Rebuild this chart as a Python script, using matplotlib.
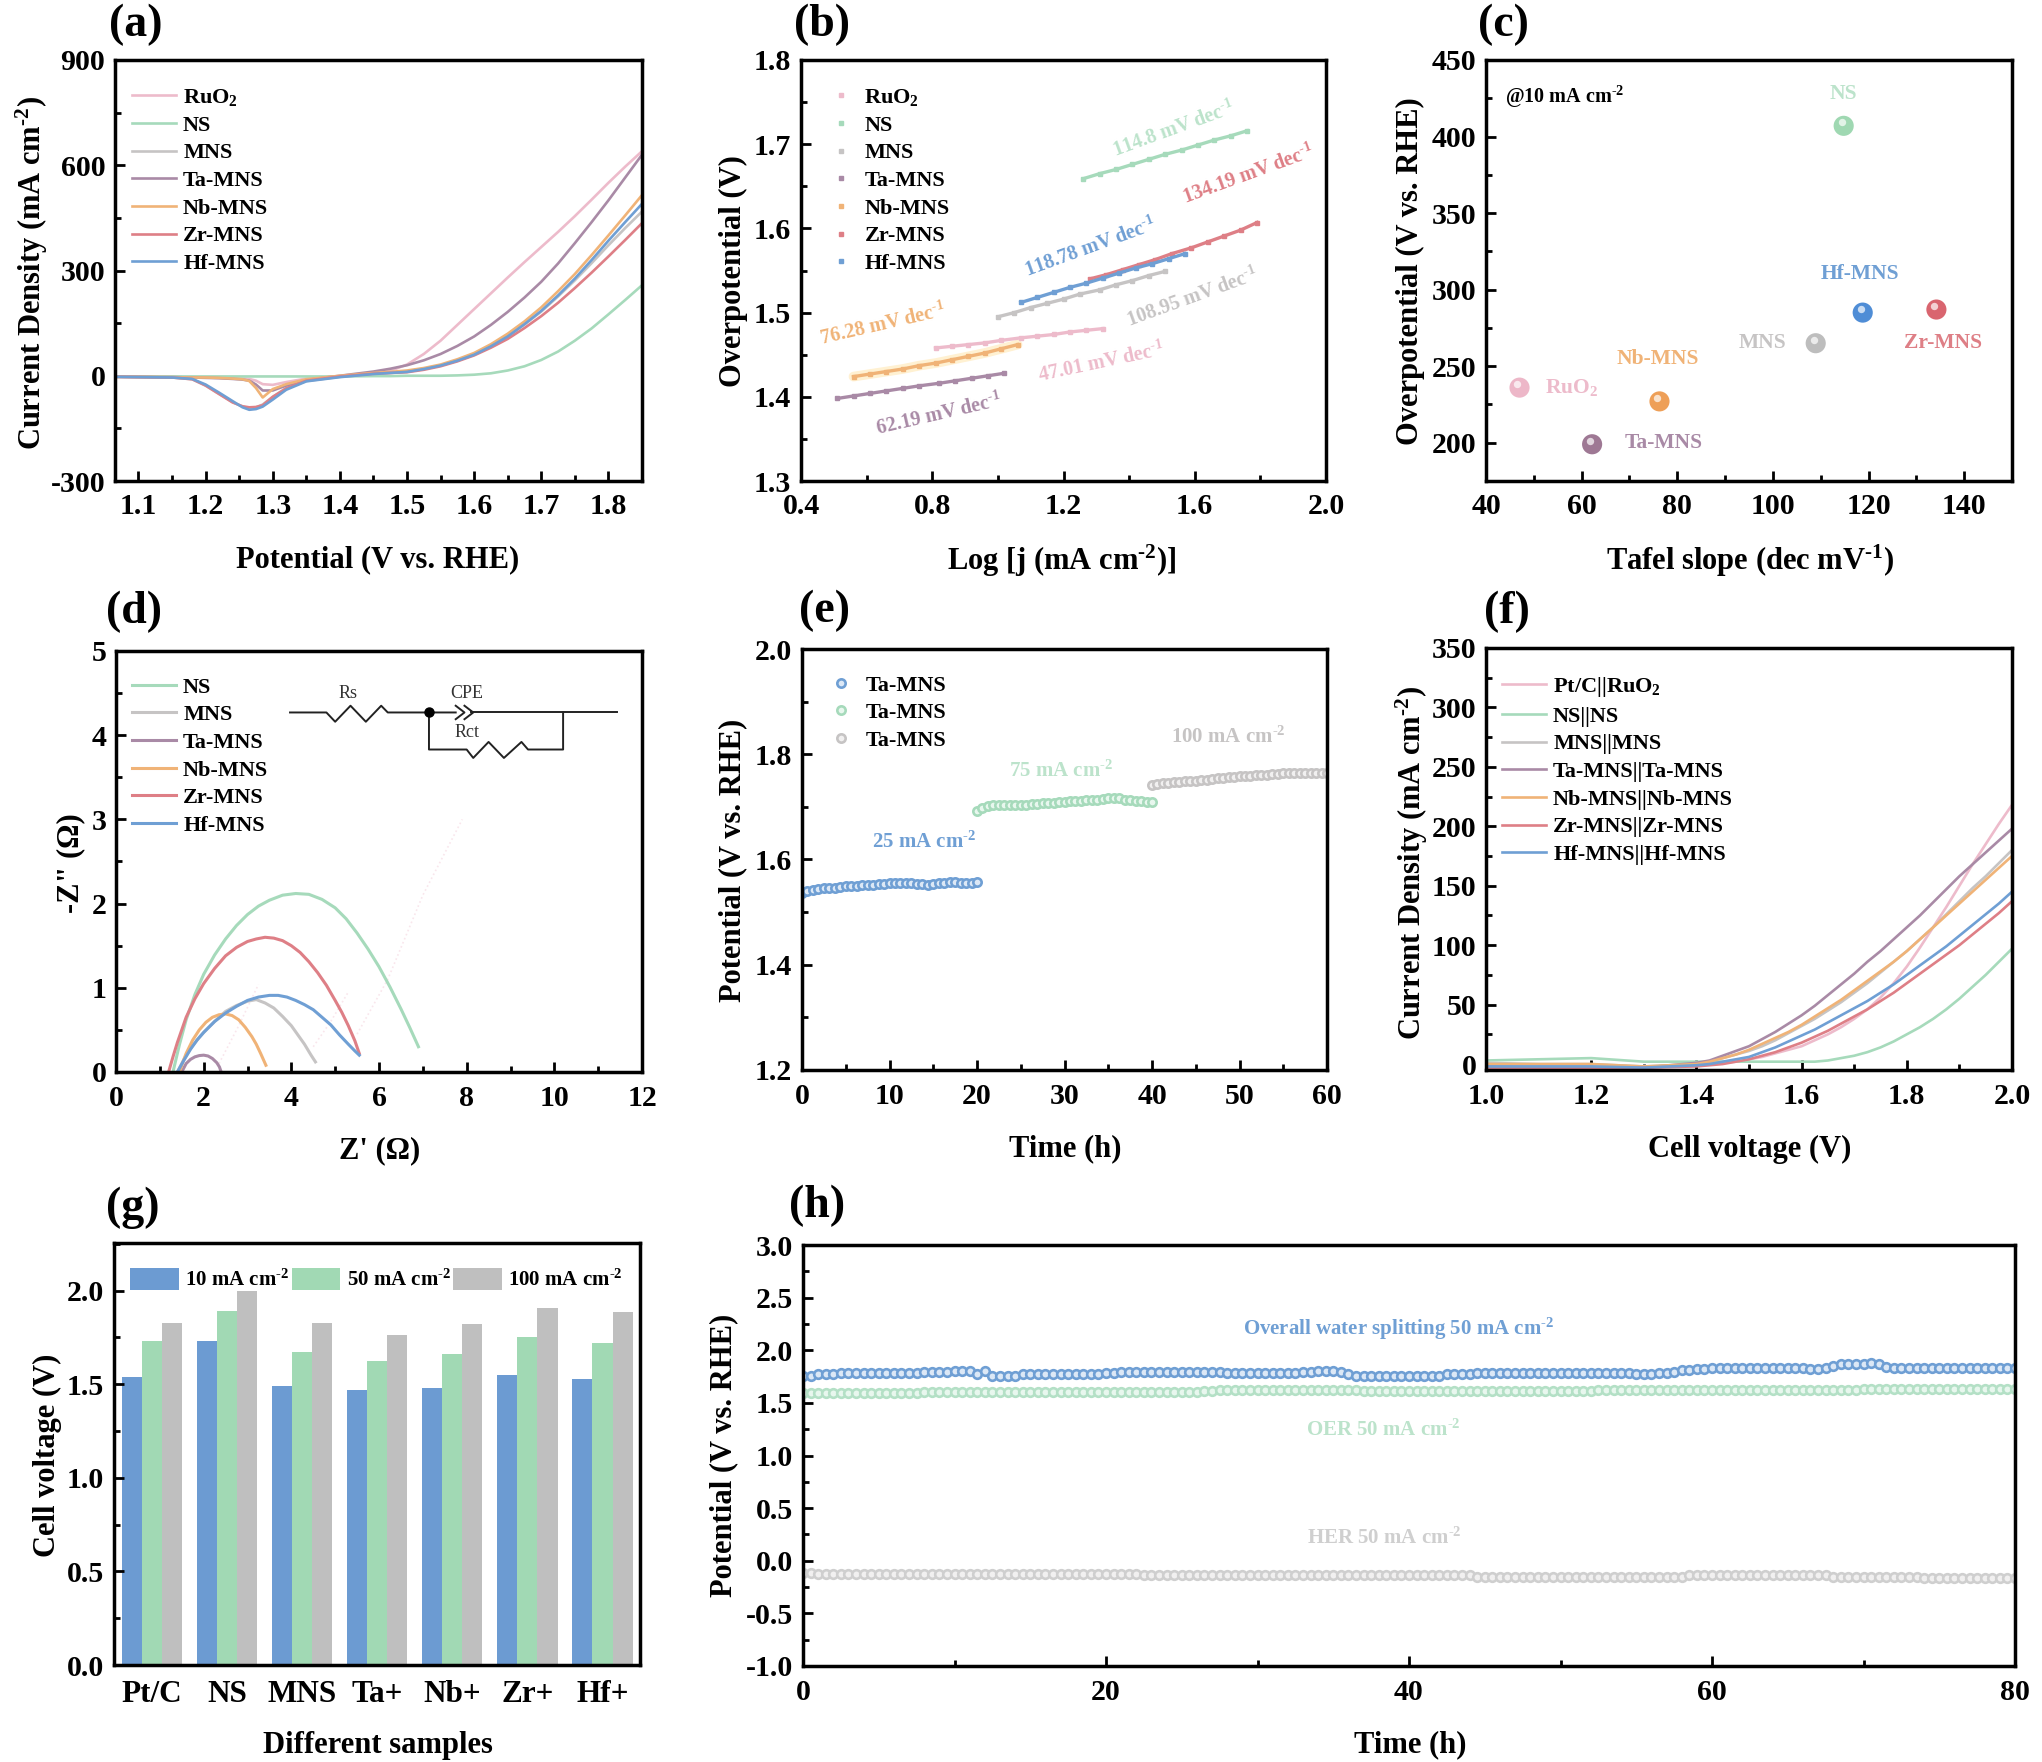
import matplotlib
matplotlib.use("Agg")
import matplotlib.pyplot as plt
import numpy as np
from matplotlib.ticker import MultipleLocator
from matplotlib.transforms import offset_copy

plt.rcParams.update({
    'font.family': 'Liberation Serif', 'font.weight': 'bold', 'axes.labelweight': 'bold',
    'mathtext.fontset': 'custom', 'mathtext.rm': 'Liberation Serif:bold',
    'mathtext.default': 'regular', 'axes.unicode_minus': False,
    'axes.linewidth': 2.5, 'xtick.direction': 'in', 'ytick.direction': 'in',
    'xtick.major.size': 7, 'ytick.major.size': 7, 'xtick.minor.size': 4, 'ytick.minor.size': 4,
    'xtick.major.width': 2, 'ytick.major.width': 2, 'xtick.minor.width': 2, 'ytick.minor.width': 2,
    'xtick.labelsize': 21.5, 'ytick.labelsize': 21.5, 'xtick.major.pad': 9, 'ytick.major.pad': 7,
})

W, H = 2042, 1762
PINK, GREEN, GRAY, PURPLE, ORANGE, RED, BLUE = '#EDBBCB', '#A6DABB', '#C6C4C4', '#A98AA6', '#F0B377', '#DE7F86', '#6F9FD4'
PALEGREEN = '#BCE3CB'

# (a) LSV
a_x = [1.065, 1.15, 1.18, 1.20, 1.22, 1.24, 1.255, 1.265, 1.275, 1.285, 1.30, 1.32, 1.35, 1.40,
       1.45, 1.475, 1.50, 1.525, 1.55, 1.575, 1.60, 1.625, 1.65, 1.675, 1.70, 1.725, 1.75, 1.775, 1.80, 1.825, 1.85]
a_ruo2 = [-3, -4, -5, -5, -6, -7, -8, -9, -14, -24, -26, -18, -8, -2,
          5, 14, 32, 62, 100, 145, 190, 235, 280, 324, 367, 410, 455, 502, 550, 596, 640]
a_ns = [-2, -2, -2, -2, -2, -2, -2, -2, -2, -2, -2, -2, -2, -2,
        -1, -1, 0, 0, 0, 1, 3, 7, 15, 27, 45, 69, 100, 135, 175, 216, 258]
a_mns = [-3, -5, -10, -28, -52, -75, -88, -92, -90, -82, -60, -35, -15, -3,
         5, 8, 12, 20, 30, 43, 60, 84, 113, 146, 183, 226, 272, 321, 372, 421, 468]
a_ta = [-3, -4, -5, -6, -7, -9, -11, -14, -25, -42, -42, -28, -12, 0,
        12, 20, 30, 44, 62, 85, 112, 145, 182, 223, 268, 320, 378, 438, 500, 565, 630]
a_nb = [-3, -4, -5, -5, -6, -8, -10, -15, -35, -62, -38, -24, -10, 0,
        8, 11, 15, 22, 32, 47, 65, 90, 120, 155, 195, 241, 290, 344, 400, 457, 515]
a_zr = [-3, -5, -10, -28, -52, -76, -87, -90, -89, -84, -60, -36, -14, -2,
        6, 8, 10, 17, 27, 41, 58, 80, 105, 136, 170, 208, 250, 294, 340, 387, 435]
a_hf = [-3, -5, -9, -25, -48, -72, -90, -97, -95, -88, -68, -40, -16, -4,
        5, 8, 11, 19, 29, 43, 60, 84, 112, 147, 185, 229, 277, 330, 385, 438, 490]

# (b) Tafel
b_ruo2_x = [0.81, 0.86, 0.91, 0.96, 1.01, 1.07, 1.12, 1.17, 1.22, 1.27, 1.32]
b_ruo2_y = [1.458, 1.460, 1.462, 1.464, 1.467, 1.470, 1.472, 1.474, 1.477, 1.479, 1.481]
b_ns_x = [1.26, 1.31, 1.36, 1.41, 1.46, 1.51, 1.56, 1.61, 1.66, 1.71, 1.76]
b_ns_y = [1.659, 1.665, 1.670, 1.676, 1.682, 1.688, 1.693, 1.699, 1.705, 1.710, 1.716]
b_mns_x = [1.00, 1.05, 1.10, 1.15, 1.20, 1.25, 1.31, 1.36, 1.41, 1.46, 1.51]
b_mns_y = [1.495, 1.500, 1.506, 1.511, 1.516, 1.522, 1.527, 1.533, 1.538, 1.544, 1.549]
b_ta_x = [0.51, 0.56, 0.61, 0.66, 0.71, 0.76, 0.82, 0.87, 0.92, 0.97, 1.02]
b_ta_y = [1.398, 1.401, 1.404, 1.407, 1.410, 1.413, 1.416, 1.419, 1.422, 1.425, 1.428]
b_nb_x = [0.56, 0.61, 0.66, 0.71, 0.76, 0.81, 0.86, 0.91, 0.96, 1.01, 1.06]
b_nb_y = [1.424, 1.427, 1.430, 1.433, 1.437, 1.440, 1.444, 1.448, 1.452, 1.457, 1.462]
b_zr_x = [1.28, 1.33, 1.38, 1.43, 1.48, 1.53, 1.59, 1.64, 1.69, 1.74, 1.79]
b_zr_y = [1.540, 1.545, 1.551, 1.557, 1.563, 1.570, 1.577, 1.584, 1.591, 1.598, 1.607]
b_hf_x = [1.07, 1.12, 1.17, 1.22, 1.27, 1.32, 1.37, 1.42, 1.47, 1.52, 1.57]
b_hf_y = [1.512, 1.518, 1.524, 1.530, 1.535, 1.541, 1.547, 1.553, 1.558, 1.564, 1.570]
b_slopes = ['114.8', '134.19', '118.78', '108.95', '76.28', '47.01', '62.19']

# (c) overpotential vs Tafel slope
c_names = ['RuO$_2$', 'NS', 'MNS', 'Ta-MNS', 'Nb-MNS', 'Zr-MNS', 'Hf-MNS']
c_tafel = [47.01, 114.8, 108.95, 62.19, 76.28, 134.19, 118.78]
c_eta = [236, 407, 265, 199, 227, 287, 285]

# (d) Nyquist
d_ns_x = [1.3, 1.45, 1.6, 1.8, 2.0, 2.25, 2.5, 2.75, 3.0, 3.25, 3.5, 3.8, 4.1, 4.4, 4.7, 5.0, 5.25, 5.5, 5.75, 6.0, 6.25, 6.5, 6.7, 6.9]
d_ns_y = [0, 0.33, 0.62, 0.92, 1.16, 1.39, 1.58, 1.74, 1.87, 1.97, 2.04, 2.1, 2.12, 2.11, 2.05, 1.95, 1.82, 1.65, 1.46, 1.25, 1.01, 0.75, 0.53, 0.3]
d_zr_x = [1.2, 1.3, 1.4, 1.6, 1.8, 2.0, 2.25, 2.5, 2.75, 3.0, 3.2, 3.4, 3.6, 3.8, 4.0, 4.2, 4.4, 4.6, 4.8, 5.0, 5.15, 5.3, 5.45, 5.55]
d_zr_y = [0, 0.18, 0.35, 0.65, 0.87, 1.05, 1.23, 1.38, 1.48, 1.55, 1.58, 1.6, 1.59, 1.56, 1.5, 1.42, 1.31, 1.18, 1.03, 0.85, 0.71, 0.55, 0.37, 0.22]
d_hf_x = [1.4, 1.55, 1.7, 1.85, 2.0, 2.25, 2.5, 2.75, 3.0, 3.25, 3.5, 3.7, 3.9, 4.1, 4.3, 4.5, 4.7, 4.9, 5.1, 5.3, 5.45, 5.55]
d_hf_y = [0, 0.14, 0.27, 0.38, 0.47, 0.6, 0.7, 0.78, 0.85, 0.89, 0.91, 0.91, 0.89, 0.85, 0.8, 0.74, 0.65, 0.56, 0.44, 0.33, 0.25, 0.2]
d_mns_x = [1.4, 1.55, 1.7, 1.85, 2.0, 2.25, 2.5, 2.75, 3.0, 3.2, 3.4, 3.6, 3.8, 4.0, 4.15, 4.3, 4.45, 4.55]
d_mns_y = [0, 0.15, 0.28, 0.38, 0.47, 0.6, 0.72, 0.79, 0.84, 0.86, 0.82, 0.76, 0.66, 0.55, 0.44, 0.33, 0.2, 0.12]
d_nb_x = [1.45, 1.52, 1.6, 1.75, 1.9, 2.05, 2.2, 2.35, 2.5, 2.65, 2.8, 2.95, 3.1, 3.2, 3.3, 3.42]
d_nb_y = [0, 0.11, 0.22, 0.38, 0.5, 0.59, 0.65, 0.68, 0.69, 0.67, 0.62, 0.53, 0.42, 0.33, 0.22, 0.08]
d_ta_x = [1.5, 1.55, 1.6, 1.7, 1.8, 1.9, 2.0, 2.1, 2.2, 2.3, 2.36, 2.4]
d_ta_y = [0, 0.05, 0.1, 0.15, 0.18, 0.195, 0.2, 0.19, 0.16, 0.11, 0.06, 0]
d_tail1_x = [5.5, 6.2, 7.0, 7.9]
d_tail1_y = [0.45, 1.1, 2.1, 3.0]
d_tail2_x = [2.35, 2.8, 3.25]
d_tail2_y = [0.1, 0.55, 1.04]
d_tail3_x = [4.5, 4.9, 5.3]
d_tail3_y = [0.3, 0.6, 0.95]

# (e) chronopotentiometry
e_t1 = [0.0, 0.625, 1.25, 1.875, 2.5, 3.125, 3.75, 4.375, 5.0, 5.625, 6.25, 6.875, 7.5, 8.125, 8.75, 9.375, 10.0, 10.625, 11.25, 11.875, 12.5, 13.125, 13.75, 14.375, 15.0, 15.625, 16.25, 16.875, 17.5, 18.125, 18.75, 19.375, 20.0]
e_v1 = [1.537, 1.540, 1.542, 1.544, 1.545, 1.546, 1.546, 1.548, 1.549, 1.550, 1.550, 1.551, 1.552, 1.552, 1.553, 1.554, 1.555, 1.556, 1.556, 1.555, 1.555, 1.554, 1.553, 1.552, 1.553, 1.555, 1.556, 1.557, 1.557, 1.556, 1.556, 1.556, 1.557]
e_t2 = [20.0, 20.625, 21.25, 21.875, 22.5, 23.125, 23.75, 24.375, 25.0, 25.625, 26.25, 26.875, 27.5, 28.125, 28.75, 29.375, 30.0, 30.625, 31.25, 31.875, 32.5, 33.125, 33.75, 34.375, 35.0, 35.625, 36.25, 36.875, 37.5, 38.125, 38.75, 39.375, 40.0]
e_v2 = [1.693, 1.698, 1.702, 1.703, 1.703, 1.703, 1.703, 1.703, 1.704, 1.704, 1.705, 1.706, 1.707, 1.707, 1.708, 1.709, 1.710, 1.711, 1.711, 1.712, 1.713, 1.713, 1.714, 1.715, 1.716, 1.716, 1.716, 1.714, 1.713, 1.712, 1.711, 1.710, 1.710]
e_t3 = [40.0, 40.625, 41.25, 41.875, 42.5, 43.125, 43.75, 44.375, 45.0, 45.625, 46.25, 46.875, 47.5, 48.125, 48.75, 49.375, 50.0, 50.625, 51.25, 51.875, 52.5, 53.125, 53.75, 54.375, 55.0, 55.625, 56.25, 56.875, 57.5, 58.125, 58.75, 59.375, 60.0]
e_v3 = [1.741, 1.743, 1.745, 1.746, 1.747, 1.748, 1.749, 1.749, 1.750, 1.751, 1.752, 1.753, 1.754, 1.755, 1.756, 1.757, 1.758, 1.758, 1.759, 1.760, 1.761, 1.761, 1.762, 1.763, 1.764, 1.764, 1.765, 1.765, 1.765, 1.765, 1.765, 1.765, 1.765]

# (f) two-electrode polarisation
f_x = [1.0, 1.1, 1.2, 1.3, 1.4, 1.425, 1.45, 1.475, 1.5, 1.525, 1.55, 1.575, 1.6, 1.625, 1.65, 1.675, 1.7, 1.725, 1.75, 1.775, 1.8, 1.825, 1.85, 1.875, 1.9, 1.925, 1.95, 1.975, 2.0]
f_pt = [-2, -2, -2, -3, -1, 0, 1, 2, 4, 6, 9, 12, 15, 20, 25, 31, 38, 46, 56, 68, 82, 98, 115, 132, 150, 168, 185, 202, 218]
f_ns = [3, 4, 5, 2, 2, 2, 2, 2, 2, 2, 2, 2, 2, 2, 3, 5, 7, 10, 14, 19, 25, 31, 38, 46, 55, 65, 75, 86, 97]
f_mns = [1, 0, 0, -2, 0, 2, 5, 8, 11, 15, 20, 26, 32, 38, 45, 52, 60, 68, 77, 86, 95, 105, 115, 126, 137, 148, 158, 169, 180]
f_ta = [-2, -3, -3, -3, 1, 3, 7, 11, 15, 21, 27, 34, 41, 49, 58, 67, 76, 86, 95, 105, 115, 125, 136, 147, 158, 168, 178, 188, 198]
f_nb = [0, 0, 0, -2, 0, 2, 5, 8, 12, 17, 22, 27, 33, 40, 47, 54, 62, 70, 78, 86, 95, 105, 115, 125, 135, 145, 155, 165, 175]
f_zr = [-3, -3, -3, -3, -2, -1, 0, 2, 4, 7, 10, 14, 18, 23, 28, 34, 40, 46, 53, 60, 68, 76, 84, 92, 100, 109, 118, 127, 137]
f_hf = [-2, -2, -2, -3, -1, 0, 2, 4, 6, 10, 14, 19, 24, 29, 35, 41, 47, 53, 60, 67, 75, 83, 91, 99, 108, 117, 126, 135, 145]

# (g) bars
g_cats = ['Pt/C', 'NS', 'MNS', 'Ta+', 'Nb+', 'Zr+', 'Hf+']
g_10 = [1.54, 1.73, 1.49, 1.47, 1.48, 1.55, 1.525]
g_50 = [1.73, 1.89, 1.67, 1.625, 1.66, 1.75, 1.72]
g_100 = [1.825, 2.0, 1.825, 1.765, 1.82, 1.905, 1.885]

# (h) long-term stability, one reading per half hour
h_t = [i * 0.5 for i in range(161)]
h_overall = [1.76, 1.76, 1.77, 1.77, 1.77, 1.78, 1.78, 1.78, 1.78, 1.78,
             1.78, 1.78, 1.78, 1.78, 1.78, 1.78, 1.79, 1.79, 1.79, 1.79,
             1.80, 1.80, 1.80, 1.77, 1.80, 1.76, 1.76, 1.76, 1.76, 1.77,
             1.77, 1.77, 1.77, 1.77, 1.77, 1.77, 1.77, 1.77, 1.77, 1.77,
             1.78, 1.78, 1.79, 1.79, 1.79, 1.79, 1.79, 1.79, 1.79, 1.79,
             1.79, 1.79, 1.79, 1.79, 1.79, 1.79, 1.78, 1.78, 1.78, 1.78,
             1.78, 1.78, 1.78, 1.78, 1.78, 1.78, 1.79, 1.79, 1.80, 1.80,
             1.80, 1.79, 1.77, 1.76, 1.76, 1.76, 1.76, 1.76, 1.76, 1.76,
             1.76, 1.76, 1.76, 1.76, 1.76, 1.77, 1.77, 1.77, 1.77, 1.78,
             1.78, 1.78, 1.78, 1.78, 1.78, 1.78, 1.78, 1.78, 1.78, 1.78,
             1.78, 1.78, 1.78, 1.78, 1.78, 1.78, 1.78, 1.78, 1.78, 1.78,
             1.77, 1.77, 1.77, 1.78, 1.78, 1.79, 1.81, 1.81, 1.82, 1.82,
             1.83, 1.83, 1.83, 1.83, 1.83, 1.83, 1.83, 1.83, 1.83, 1.83,
             1.83, 1.83, 1.83, 1.82, 1.82, 1.83, 1.85, 1.87, 1.87, 1.87,
             1.87, 1.88, 1.87, 1.84, 1.83, 1.83, 1.83, 1.83, 1.83, 1.83,
             1.83, 1.83, 1.83, 1.83, 1.83, 1.83, 1.83, 1.83, 1.83, 1.83, 1.83]
h_oer = [1.59, 1.59, 1.59, 1.59, 1.59, 1.59, 1.59, 1.59, 1.59, 1.59,
         1.59, 1.59, 1.59, 1.59, 1.59, 1.59, 1.60, 1.60, 1.60, 1.60,
         1.60, 1.60, 1.60, 1.60, 1.60, 1.60, 1.60, 1.60, 1.60, 1.60,
         1.60, 1.60, 1.60, 1.60, 1.60, 1.60, 1.60, 1.60, 1.60, 1.60,
         1.60, 1.60, 1.60, 1.60, 1.60, 1.60, 1.60, 1.60, 1.60, 1.60,
         1.60, 1.60, 1.60, 1.61, 1.61, 1.62, 1.62, 1.62, 1.62, 1.62,
         1.62, 1.62, 1.62, 1.62, 1.62, 1.62, 1.62, 1.62, 1.62, 1.62,
         1.62, 1.62, 1.62, 1.62, 1.61, 1.61, 1.61, 1.61, 1.61, 1.61,
         1.61, 1.61, 1.61, 1.61, 1.61, 1.61, 1.61, 1.61, 1.61, 1.61,
         1.61, 1.61, 1.61, 1.61, 1.61, 1.61, 1.61, 1.61, 1.61, 1.61,
         1.61, 1.61, 1.61, 1.61, 1.61, 1.62, 1.62, 1.62, 1.62, 1.62,
         1.62, 1.62, 1.62, 1.62, 1.62, 1.62, 1.62, 1.62, 1.62, 1.62,
         1.62, 1.62, 1.62, 1.62, 1.62, 1.62, 1.62, 1.62, 1.62, 1.62,
         1.62, 1.62, 1.62, 1.62, 1.62, 1.62, 1.62, 1.62, 1.62, 1.62,
         1.63, 1.63, 1.63, 1.63, 1.63, 1.63, 1.63, 1.63, 1.63, 1.63,
         1.63, 1.63, 1.63, 1.63, 1.63, 1.63, 1.63, 1.63, 1.63, 1.63, 1.63]
h_her = [-0.12, -0.12, -0.13, -0.13, -0.13, -0.13, -0.13, -0.13, -0.13, -0.13,
         -0.13, -0.13, -0.13, -0.13, -0.13, -0.13, -0.13, -0.13, -0.13, -0.13,
         -0.13, -0.13, -0.13, -0.13, -0.13, -0.13, -0.13, -0.13, -0.13, -0.13,
         -0.13, -0.13, -0.13, -0.13, -0.13, -0.13, -0.13, -0.13, -0.13, -0.13,
         -0.13, -0.13, -0.13, -0.13, -0.13, -0.14, -0.14, -0.14, -0.14, -0.14,
         -0.14, -0.14, -0.14, -0.14, -0.14, -0.14, -0.14, -0.14, -0.14, -0.14,
         -0.14, -0.14, -0.14, -0.14, -0.14, -0.14, -0.14, -0.14, -0.14, -0.14,
         -0.14, -0.14, -0.14, -0.14, -0.14, -0.14, -0.14, -0.14, -0.14, -0.14,
         -0.14, -0.14, -0.14, -0.14, -0.14, -0.14, -0.14, -0.14, -0.14, -0.15,
         -0.15, -0.15, -0.15, -0.15, -0.15, -0.15, -0.15, -0.15, -0.15, -0.15,
         -0.15, -0.15, -0.15, -0.15, -0.15, -0.15, -0.15, -0.15, -0.15, -0.15,
         -0.15, -0.15, -0.15, -0.15, -0.15, -0.15, -0.15, -0.14, -0.14, -0.14,
         -0.14, -0.14, -0.14, -0.14, -0.14, -0.14, -0.14, -0.14, -0.14, -0.14,
         -0.14, -0.14, -0.14, -0.14, -0.14, -0.14, -0.15, -0.15, -0.15, -0.15,
         -0.15, -0.15, -0.15, -0.15, -0.15, -0.15, -0.15, -0.15, -0.16, -0.16,
         -0.16, -0.16, -0.16, -0.16, -0.16, -0.16, -0.16, -0.16, -0.16, -0.16, -0.16]

UNIT = r'mA cm$^{\text{-2}}$'
DEC = r'mV dec$^{\text{-1}}$'
LABEL_FS = 22
fig = plt.figure(figsize=(W / 100, H / 100), dpi=100, facecolor='white')


def panel(box, xlim, ylim, xmaj, xmin, ymaj, ymin, xlabel, ylabel, xl_px, yl_px, tag, tag_px):
    x0, x1, y0, y1 = box
    ax = fig.add_axes([x0 / W, 1 - y1 / H, (x1 - x0) / W, (y1 - y0) / H])
    ax.set_xlim(*xlim)
    ax.set_ylim(*ylim)
    ax.xaxis.set_major_locator(MultipleLocator(xmaj))
    ax.xaxis.set_minor_locator(MultipleLocator(xmin))
    ax.yaxis.set_major_locator(MultipleLocator(ymaj))
    ax.yaxis.set_minor_locator(MultipleLocator(ymin))
    ax.set_xlabel(xlabel, fontsize=LABEL_FS, va='center')
    ax.set_ylabel(ylabel, fontsize=LABEL_FS, va='center')
    ax.xaxis.set_label_coords((xl_px[0] - x0) / (x1 - x0), (y1 - xl_px[1]) / (y1 - y0))
    ax.yaxis.set_label_coords((yl_px[0] - x0) / (x1 - x0), (y1 - yl_px[1]) / (y1 - y0))
    fig.text(tag_px[0] / W, 1 - tag_px[1] / H, tag, fontsize=33, ha='center', va='center')
    return ax


def legend(ax, box, px, **kw):
    x0, x1, y0, y1 = box
    opts = dict(frameon=False, fontsize=16, handlelength=2.0, handletextpad=0.3, labelspacing=0.32,
                borderpad=0, borderaxespad=0, loc='upper left',
                bbox_to_anchor=((px[0] - x0) / (x1 - x0), (y1 - px[1]) / (y1 - y0)))
    opts.update(kw)
    return ax.legend(**opts)


LW = 1.9
# ---- (a)
box = (115, 642, 60, 481)
ax = panel(box, (1.065, 1.85), (-300, 900), 0.1, 0.05, 300, 150, 'Potential (V vs. RHE)',
           r'Current Density (mA cm$^{\text{-2}}$)', (378, 560), (32, 273), '(a)', (136, 25))
for vals, c, lab in [(a_ruo2, PINK, 'RuO$_2$'), (a_ns, GREEN, 'NS'), (a_mns, GRAY, 'MNS'), (a_ta, PURPLE, 'Ta-MNS'),
                     (a_nb, ORANGE, 'Nb-MNS'), (a_zr, RED, 'Zr-MNS'), (a_hf, BLUE, 'Hf-MNS')]:
    ax.plot(a_x, vals, color=c, lw=LW, label=lab)
legend(ax, box, (132, 87))

# ---- (b)
box = (801, 1326, 60, 481)
ax = panel(box, (0.4, 2.0), (1.3, 1.8), 0.4, 0.2, 0.1, 0.05, r'Log [j (mA cm$^{\text{-2}}$)]',
           'Overpotential (V)', (1062, 561), (733, 271), '(b)', (822, 25))
ax.plot(b_nb_x, b_nb_y, color='#FFF1D2', lw=7, solid_capstyle='round')
for xs, ys, c, lab in [(b_ruo2_x, b_ruo2_y, PINK, 'RuO$_2$'), (b_ns_x, b_ns_y, GREEN, 'NS'), (b_mns_x, b_mns_y, GRAY, 'MNS'),
                       (b_ta_x, b_ta_y, PURPLE, 'Ta-MNS'), (b_nb_x, b_nb_y, ORANGE, 'Nb-MNS'), (b_zr_x, b_zr_y, RED, 'Zr-MNS'),
                       (b_hf_x, b_hf_y, BLUE, 'Hf-MNS')]:
    ax.plot(xs, ys, color=c, lw=2.4)
    ax.plot(xs, ys, ls='none', marker='s', ms=3.5, color=c, label=lab)
legend(ax, box, (830, 87), handlelength=1.0, handletextpad=0.55)
for s, x, y, r, c in zip(b_slopes, [1.535, 1.763, 1.284, 1.595, 0.649, 1.317, 0.821], [1.717, 1.664, 1.577, 1.517, 1.485, 1.44, 1.378],
                         [20, 20, 20, 20, 13, 12, 13], [PALEGREEN, RED, BLUE, GRAY, ORANGE, PINK, PURPLE]):
    ax.text(x, y, s + ' ' + DEC, color=c, fontsize=14.5, rotation=r, ha='center', va='center', rotation_mode='anchor')

# ---- (c)
box = (1486, 2012, 60, 481)
ax = panel(box, (40, 150), (175, 450), 20, 10, 50, 25, r'Tafel slope (dec mV$^{\text{-1}}$)',
           'Overpotential (V vs. RHE)', (1750, 561), (1410, 271), '(c)', (1503, 25))
c_cols = ['#EDB7C8', '#9FD8B2', '#BDBDBD', '#9E7894', '#EE9F57', '#D9656F', '#4F8DD6']
ax.scatter(c_tafel, c_eta, s=210, c=c_cols, zorder=3, linewidths=0)
spot = offset_copy(ax.transData, fig=fig, x=-1.5, y=2.5, units='points')
ax.scatter(c_tafel, c_eta, s=28, c='white', alpha=0.7, zorder=4, linewidths=0, transform=spot)
for s, x, y, c in zip(c_names, [58, 114.7, 97.9, 77.2, 76, 135.6, 118.3], [236, 428, 265, 200, 255, 265, 310],
                      [PINK, PALEGREEN, GRAY, PURPLE, ORANGE, RED, BLUE]):
    ax.text(x, y, s, color=c, fontsize=15.5, ha='center', va='center')
ax.text(56.5, 426, '@10 ' + UNIT, fontsize=14.5, ha='center', va='center')

# ---- (d)
box = (116, 642, 651, 1072)
ax = panel(box, (0, 12), (0, 5), 2, 1, 1, 0.5, "Z' (Ω)", '-Z" (Ω)', (380, 1151), (71, 863), '(d)', (134, 612))
for xs, ys in [(d_tail1_x, d_tail1_y), (d_tail2_x, d_tail2_y), (d_tail3_x, d_tail3_y)]:
    ax.plot(xs, ys, color='#F9E6EC', lw=1.2, ls=':')
for xs, ys, c, lab in [(d_ns_x, d_ns_y, GREEN, 'NS'), (d_mns_x, d_mns_y, GRAY, 'MNS'), (d_ta_x, d_ta_y, PURPLE, 'Ta-MNS'),
                       (d_nb_x, d_nb_y, ORANGE, 'Nb-MNS'), (d_zr_x, d_zr_y, RED, 'Zr-MNS'), (d_hf_x, d_hf_y, BLUE, 'Hf-MNS')]:
    ax.plot(xs, ys, color=c, lw=LW + 0.3, label=lab)
legend(ax, box, (132, 677))
# equivalent circuit
ck = dict(color='#222222', lw=1.4)
ax.plot([3.97, 4.8, 5.0, 5.35, 5.7, 6.05, 6.2, 7.14, 7.75], [4.27, 4.27, 4.16, 4.35, 4.16, 4.35, 4.27, 4.27, 4.27], **ck)
ax.plot([7.75, 7.95, 7.75], [4.35, 4.27, 4.19], **ck)
ax.plot([7.95, 8.15, 7.95], [4.35, 4.27, 4.19], **ck)
ax.plot([8.1, 11.43], [4.27, 4.27], **ck)
ax.plot([10.2, 10.2, 9.4, 9.25, 8.85, 8.5, 8.15, 8.0, 7.14, 7.14], [4.27, 3.83, 3.83, 3.92, 3.73, 3.92, 3.73, 3.83, 3.83, 4.27], **ck)
ax.plot([7.14], [4.27], 'o', color='black', ms=6.5)
for s, x, y in [('Rs', 5.3, 4.5), ('CPE', 8.0, 4.5), ('Rct', 8.0, 4.03)]:
    ax.text(x, y, s, fontsize=13, fontweight='normal', ha='center', va='center', color='#333333')

# ---- (e)
box = (802, 1327, 649, 1070)
ax = panel(box, (0, 60), (1.2, 2.0), 10, 5, 0.2, 0.1, 'Time (h)', 'Potential (V vs. RHE)', (1065, 1149), (733, 860), '(e)', (824, 611))
for t, v, c, fc in [(e_t1, e_v1, BLUE, '#DCE8F6'), (e_t2, e_v2, GREEN, '#E8F7EE'), (e_t3, e_v3, GRAY, '#F1F0F0')]:
    ax.plot(t, v, ls='none', marker='o', ms=6, mec=c, mfc=fc, mew=1.9, label='Ta-MNS')
legend(ax, box, (830, 675), handlelength=1.0, handletextpad=0.6)
for s, x, y, c in [('25 ', 13.9, 1.632, BLUE), ('75 ', 29.6, 1.768, PALEGREEN), ('100 ', 48.7, 1.832, GRAY)]:
    ax.text(x, y, s + UNIT, color=c, fontsize=15, ha='center', va='center')

# ---- (f)
box = (1486, 2012, 648, 1070)
ax = panel(box, (1.0, 2.0), (-5, 350), 0.2, 0.1, 50, 25, 'Cell voltage (V)', r'Current Density (mA cm$^{\text{-2}}$)',
           (1750, 1149), (1412, 863), '(f)', (1507, 612))
ax.set_yticks(np.arange(0, 351, 50))
for vals, c, lab in [(f_pt, PINK, 'Pt/C||RuO$_2$'), (f_ns, GREEN, 'NS||NS'), (f_mns, GRAY, 'MNS||MNS'), (f_ta, PURPLE, 'Ta-MNS||Ta-MNS'),
                     (f_nb, ORANGE, 'Nb-MNS||Nb-MNS'), (f_zr, RED, 'Zr-MNS||Zr-MNS'), (f_hf, BLUE, 'Hf-MNS||Hf-MNS')]:
    ax.plot(f_x, vals, color=c, lw=LW, label=lab)
legend(ax, box, (1502, 675))

# ---- (g)
box = (114, 640, 1243, 1665)
ax = panel(box, (-0.506, 6.5), (0, 2.254), 1, 1, 0.5, 0.25, 'Different samples', 'Cell voltage (V)',
           (378, 1745), (47, 1455), '(g)', (133, 1208))
idx = np.arange(len(g_cats))
bw = 0.268
h1 = ax.bar(idx - bw, g_10, bw, color='#6C9BD2', label='10 ' + UNIT)
h2 = ax.bar(idx, g_50, bw, color='#A1D9B4', label='50 ' + UNIT)
h3 = ax.bar(idx + bw, g_100, bw, color='#BFBFBF', label='100 ' + UNIT)
ax.set_xticks(idx)
ax.set_xticklabels(g_cats, fontsize=22.5)
ax.tick_params(axis='x', which='both', length=0, pad=11)
ax.tick_params(axis='x', which='minor', bottom=False)
legend(ax, box, (130, 1268), ncol=3, columnspacing=0.1, handleheight=1.25, handlelength=2.35, handletextpad=0.3, fontsize=15)

# ---- (h)
box = (803, 2015, 1245, 1666)
ax = panel(box, (0, 80), (-1, 3), 20, 10, 0.5, 0.25, 'Time (h)', 'Potential (V vs. RHE)', (1410, 1745), (724, 1455), '(h)', (817, 1206))
for v, c, fc in [(h_overall, BLUE, '#DCE8F6'), (h_oer, '#B4E0C6', '#E8F7EE'), (h_her, '#CFCFCF', '#F1F0F0')]:
    ax.plot(h_t, v, ls='none', marker='o', ms=6.2, mec=c, mfc=fc, mew=1.9)
ax.text(39.3, 2.20, 'Overall water splitting 50 ' + UNIT, color=BLUE, fontsize=15, ha='center', va='center')
ax.text(38.3, 1.24, 'OER 50 ' + UNIT, color=PALEGREEN, fontsize=15, ha='center', va='center')
ax.text(38.4, 0.21, 'HER 50 ' + UNIT, color='#CFCFCF', fontsize=15, ha='center', va='center')

fig.savefig('out.png', dpi=100)
